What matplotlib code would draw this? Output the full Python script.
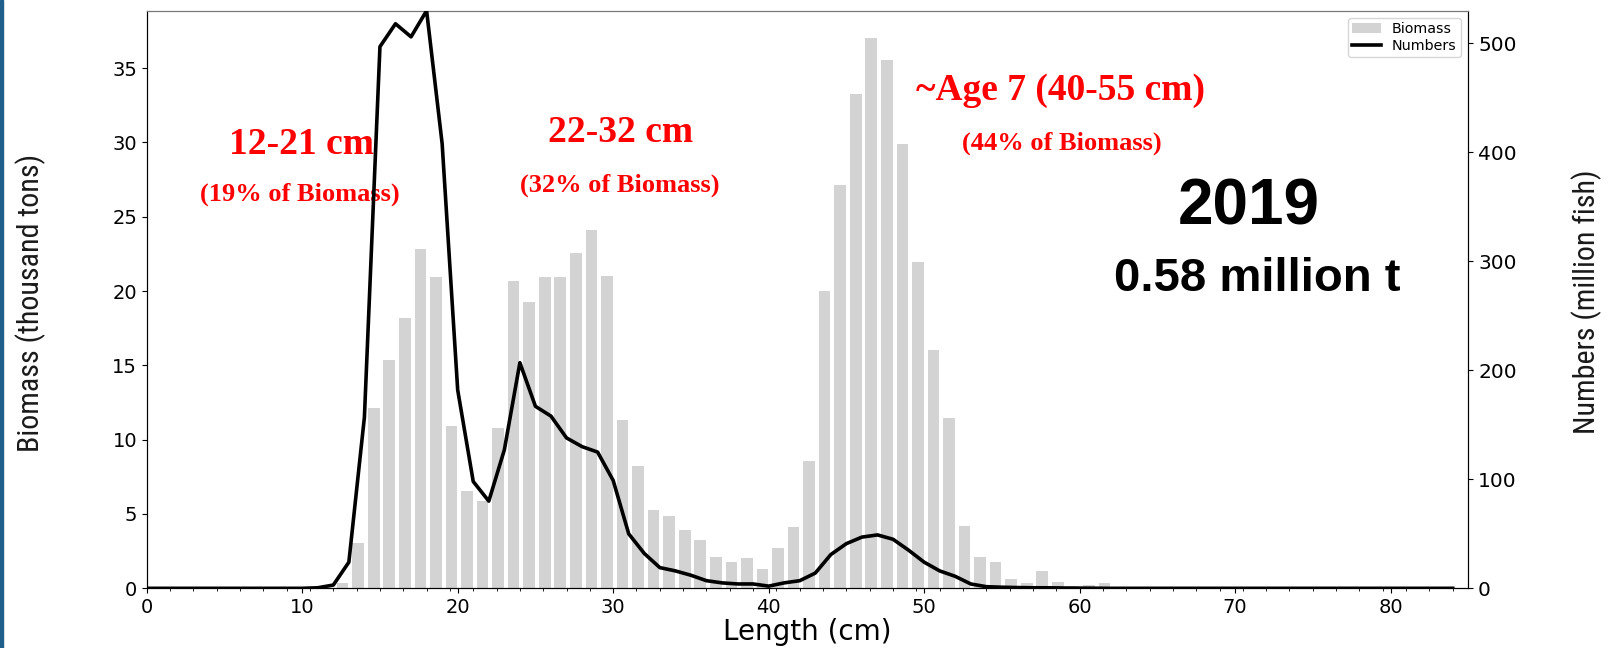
from __future__ import annotations

import matplotlib

matplotlib.use("Agg")
import matplotlib.pyplot as plt
from matplotlib.lines import Line2D
from matplotlib.patches import Patch, Rectangle
from matplotlib.ticker import MultipleLocator


OUT_PATH = "out.png"

LENGTHS = list(range(0, 85))

# biomass per 1 cm length class (thousand tons), lengths 0..84
BIOMASS = [
    0, 0, 0, 0, 0, 0, 0, 0, 0, 0, 0, 0,
    0.34, 3.07, 12.15, 15.36, 18.21, 22.83, 20.93, 10.94, 6.55, 5.87,
    10.81, 20.70, 19.27, 20.93, 20.97, 22.58, 24.11, 21.02, 11.33, 8.25,
    5.27, 4.89, 3.92, 3.25, 2.09, 1.75, 2.02, 1.28, 2.69, 4.15,
    8.59, 20.00, 27.14, 33.26, 37.01, 35.55, 29.90, 21.94, 16.04, 11.44,
    4.19, 2.13, 1.75, 0.65, 0.34, 1.18, 0.45, 0.15, 0.22, 0.34,
    0, 0, 0, 0, 0, 0, 0, 0, 0, 0, 0, 0, 0, 0, 0, 0, 0, 0, 0, 0, 0, 0, 0,
]

# numbers per length class (million fish), lengths 0..84
NUMBERS = [
    0, 0, 0, 0, 0, 0, 0, 0, 0, 0, 0, 0.5,
    3, 24, 157, 497, 518, 506, 530, 408, 182, 98,
    80, 127, 207, 167, 158, 138, 130, 125, 99, 50,
    32, 19, 16, 12, 7, 5, 4, 4, 2, 5,
    7, 14, 31, 41, 47, 49, 45, 35, 24, 16,
    11, 4, 1.5, 1, 0.7, 0.5, 0.5, 0.3, 0.2, 0.1,
    0, 0, 0, 0, 0, 0, 0, 0, 0, 0, 0, 0, 0, 0, 0, 0, 0, 0, 0, 0, 0, 0, 0,
]

GROUP_TITLES = ["12-21 cm", "22-32 cm", "~Age 7 (40-55 cm)"]
GROUP_SHARES = ["(19% of Biomass)", "(32% of Biomass)", "(44% of Biomass)"]
YEAR = "2019"
TOTAL = "0.58 million t"

LABEL_FONT = ["Roboto Condensed", "Open Sans Condensed", "DejaVu Sans"]


def draw() -> None:
    fig = plt.figure(figsize=(16.16, 6.48), dpi=100)
    ax = fig.add_axes([0.0908, 0.0921, 0.8178, 0.8914])
    ax2 = ax.twinx()

    bar_x = [x + 0.6 for x in LENGTHS]
    ax.bar(bar_x, BIOMASS, width=0.75, color="lightgrey", zorder=1)
    ax2.plot(LENGTHS, NUMBERS, color="black", lw=2.6, zorder=3)

    ax.set_xlim(0, 85)
    ax2.set_ylim(0, max(NUMBERS))
    ax.xaxis.set_major_locator(MultipleLocator(10))
    ax.xaxis.set_minor_locator(MultipleLocator(1.5))
    ax.yaxis.set_major_locator(MultipleLocator(5))
    ax2.yaxis.set_major_locator(MultipleLocator(100))

    ax.tick_params(axis="both", which="major", labelsize=14)
    ax.tick_params(axis="x", which="minor", length=2.5)
    ax2.tick_params(axis="y", labelsize=14.5)
    ax.spines["top"].set_color("#777777")
    ax2.spines["top"].set_color("#777777")

    ax.set_xlabel("Length (cm)", fontsize=20, labelpad=1)

    label_kw = dict(rotation=90, ha="center", va="center", fontsize=21.6,
                    family=LABEL_FONT, stretch="condensed", weight="normal",
                    color="#1a1a1a")
    fig.text(0.0192, 0.533, "Biomass (thousand tons)", **label_kw)
    fig.text(0.982, 0.535, "Numbers (million fish)", **label_kw)

    red = dict(color="red", family="Liberation Serif", weight="bold",
               ha="center", va="baseline", zorder=5)
    title_pos = [(9.93, 29.19), (30.5, 30.05), (58.8, 32.86)]
    share_pos = [(9.87, 26.06), (30.45, 26.69), (58.84, 29.5)]
    for text, (x, y) in zip(GROUP_TITLES, title_pos):
        ax.text(x, y, text, fontsize=27, **red)
    for text, (x, y) in zip(GROUP_SHARES, share_pos):
        ax.text(x, y, text, fontsize=19, **red)

    ax.text(70.9, 24.47, YEAR, fontsize=46, weight="bold",
            family="Liberation Sans", ha="center", va="baseline")
    ax.text(71.4, 20.03, TOTAL, fontsize=34, weight="bold",
            family="Liberation Sans", ha="center", va="baseline")

    handles = [
        Patch(facecolor="lightgrey", label="Biomass"),
        Line2D([], [], color="black", lw=2.6, label="Numbers"),
    ]
    ax2.legend(handles=handles, loc="upper right", fontsize=10.3,
               labelspacing=0.2, borderpad=0.3)

    # blue edge strip on the left side of the slide
    fig.patches.append(Rectangle((0, 0), 3 / 1616, 1, transform=fig.transFigure,
                                 color="#1f5f8b", zorder=10))

    fig.savefig(OUT_PATH, dpi=100)
    plt.close(fig)


def main() -> None:
    draw()


if __name__ == "__main__":
    main()
